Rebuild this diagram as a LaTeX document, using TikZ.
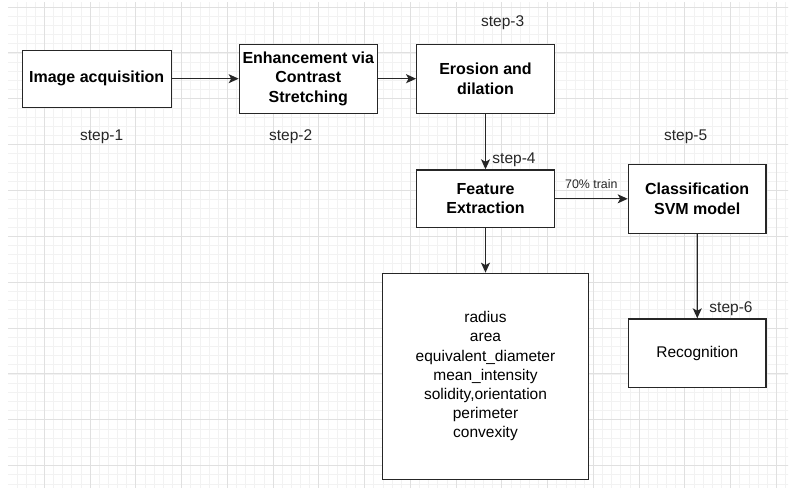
\documentclass[tikz,border=0pt]{standalone}
\usepackage{fontspec}
\setmainfont{Liberation Sans}
\usetikzlibrary{arrows.meta,positioning}

\begin{document}
\begin{tikzpicture}[x=1pt,y=-1pt,
		box/.style={draw=black!85,line width=1.3pt,fill=white,align=center,inner sep=2pt},
		bold/.style={font=\fontsize{16}{19.3}\selectfont\bfseries},
		plain/.style={font=\fontsize{15.5}{19.2}\selectfont},
		steplabel/.style={font=\fontsize{15.5}{18}\selectfont,text=black!85},
		flow/.style={line width=1.3pt,draw=black!85,-{Stealth[length=10pt,width=9pt,inset=2.5pt]}}]
		\useasboundingbox (0,0) rectangle (798,495);
		% grid paper
		\begin{scope}
		\clip (8,3) rectangle (788,487);
		\foreach \x in {0,...,90} \draw[black!5,line width=0.8pt] (-1.4+\x*9.15,0) -- (-1.4+\x*9.15,495);
		\foreach \y in {0,...,60} \draw[black!5,line width=0.8pt] (0,7.1+\y*9.17) -- (798,7.1+\y*9.17);
		\foreach \x in {0,...,18} \draw[black!12,line width=0.9pt] (-1.4+\x*45.75,0) -- (-1.4+\x*45.75,495);
		\foreach \y in {0,...,11} \draw[black!12,line width=0.9pt] (0,7.1+\y*45.85) -- (798,7.1+\y*45.85);
		\end{scope}
		% boxes
		\node[box,bold,minimum width=149pt,minimum height=57pt] (acq) at (96.7,78.7) {Image acquisition};
		\node[box,bold,minimum width=138pt,minimum height=69pt] (enh) at (308.3,78.7) {Enhancement via\\Contrast\\Stretching};
		\node[box,bold,minimum width=137.6pt,minimum height=69pt] (ero) at (485.5,78.7) {Erosion and\\dilation};
		\node[box,bold,minimum width=137.6pt,minimum height=57.7pt] (feat) at (485.5,198.8) {Feature\\Extraction};
		\node[box,bold,minimum width=137.7pt,minimum height=69pt] (cls) at (697.2,198.8) {Classification\\SVM model};
		\node[box,plain,minimum width=206.4pt,minimum height=206pt] (list) at (485.5,376.3)
			{radius\\area\\equivalent\_diameter\\mean\_intensity\\solidity,orientation\\perimeter\\convexity};
		\node[box,plain,minimum width=137.3pt,minimum height=68.7pt] (rec) at (697.3,353.3) {Recognition};
		% step labels
		\node[steplabel] (s1) at (101.7,136.7) {step-1};
		\node[steplabel] (s2) at (290.7,136.7) {step-2};
		\node[steplabel] (s3) at (502.7,22.7) {step-3};
		\node[steplabel] (s4) at (514,160) {step-4};
		\node[steplabel] (s5) at (685.7,136.7) {step-5};
		\node[steplabel] (s6) at (731,309) {step-6};
		% connectors
		\draw[flow] (acq) -- (enh);
		\draw[flow] (enh) -- (ero);
		\draw[flow] (ero) -- (feat);
		\draw[flow] (feat) -- node[above,font=\fontsize{12.4}{14}\selectfont,text=black!85,yshift=6pt] {70\% train} (cls);
		\draw[flow] (feat) -- (list);
		\draw[flow] (cls) -- (rec);
		\end{tikzpicture}
\end{document}
